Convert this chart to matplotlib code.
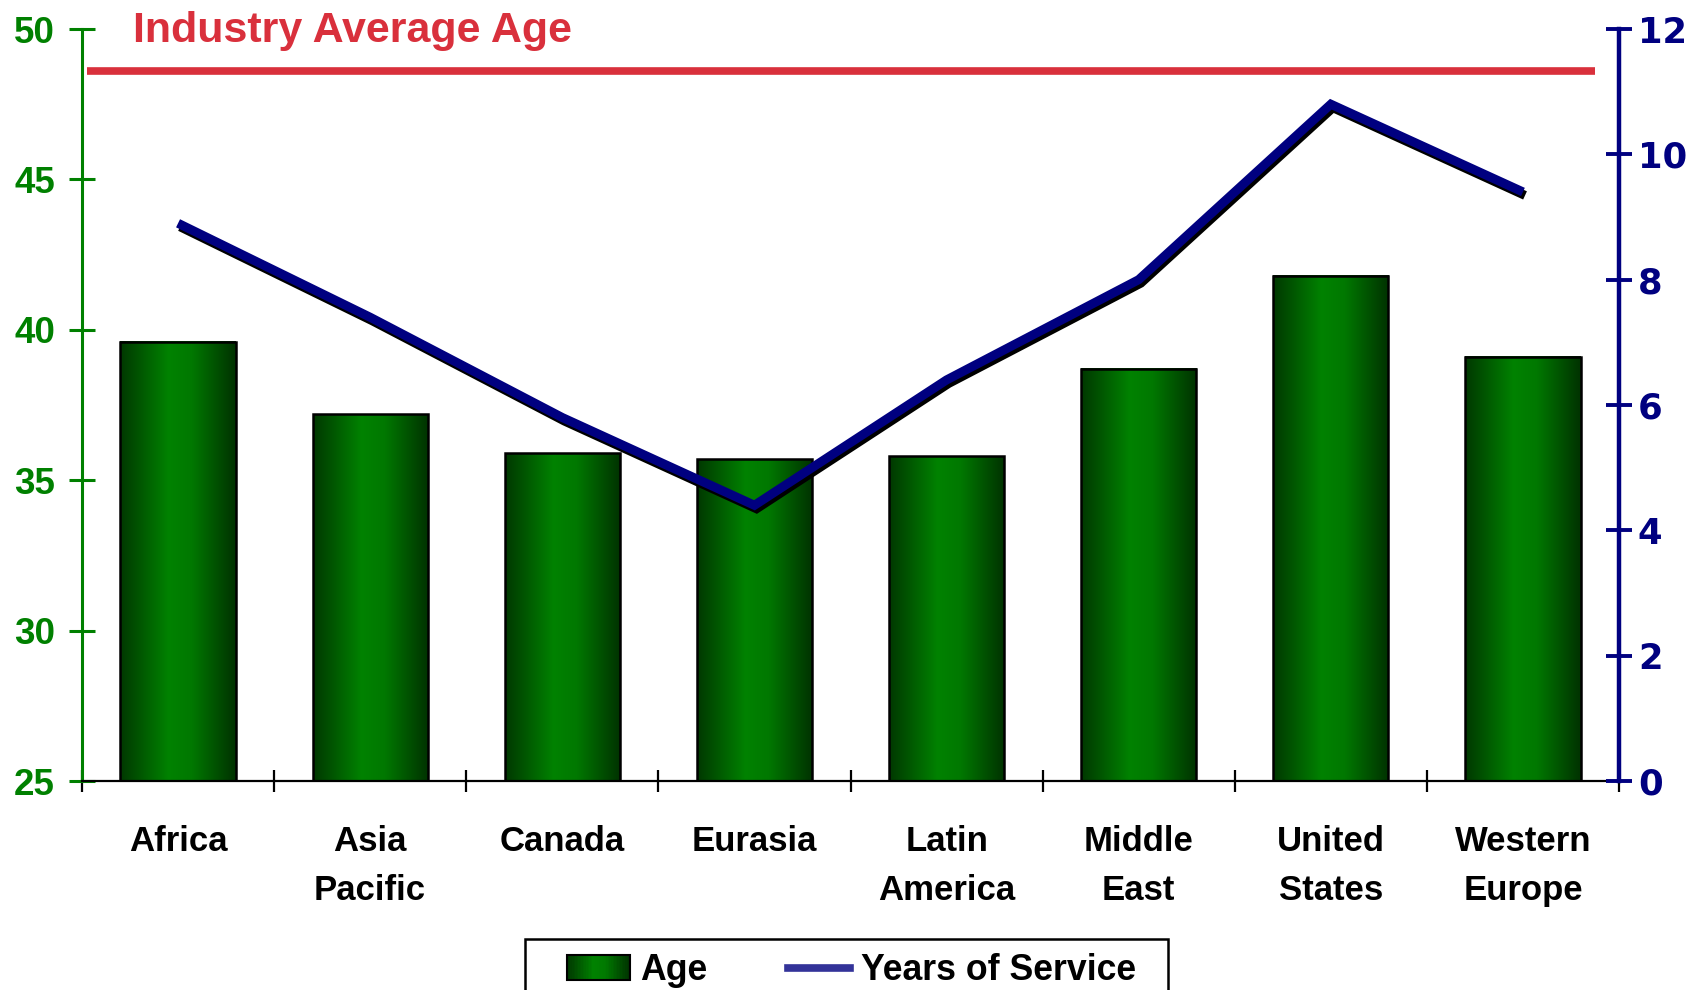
import numpy as np
import matplotlib
matplotlib.use("Agg")
import matplotlib.pyplot as plt
import matplotlib.patheffects as pe
from matplotlib.colors import LinearSegmentedColormap
from matplotlib.legend_handler import HandlerBase
from matplotlib.lines import Line2D
from matplotlib.patches import Rectangle

# Data
regions = ["Africa", "Asia\nPacific", "Canada", "Eurasia", "Latin\nAmerica",
           "Middle\nEast", "United\nStates", "Western\nEurope"]
age = [39.6, 37.2, 35.9, 35.7, 35.8, 38.7, 41.8, 39.1]
years_of_service = [8.9, 7.4, 5.8, 4.4, 6.4, 8.0, 10.8, 9.4]
industry_average_age = 48.6

age_ticks = [25, 30, 35, 40, 45, 50]
service_ticks = [0, 2, 4, 6, 8, 10, 12]

# Colors
green = "#008000"
navy = "#000080"
red = "#d9303c"
bar_cmap = LinearSegmentedColormap.from_list(
    "bar", [(0, "#003800"), (0.42, "#008200"), (0.62, "#007800"), (1, "#003200")])


class GradientHandler(HandlerBase):
    # Legend patch drawn as thin strips so it shows the same gradient
    def create_artists(self, legend, orig_handle, xdescent, ydescent,
                       width, height, fontsize, trans):
        n = 40
        artists = []
        for i in range(n):
            c = bar_cmap((i + 0.5) / n)
            artists.append(Rectangle((-xdescent + i * width / n, -ydescent),
                                     width / n * 1.05, height, facecolor=c,
                                     edgecolor="none", transform=trans))
        artists.append(Rectangle((-xdescent, -ydescent), width, height,
                                 facecolor="none", edgecolor="black", lw=1.5,
                                 transform=trans))
        return artists


plt.rcParams["font.family"] = ["Liberation Sans", "DejaVu Sans"]
plt.rcParams["font.weight"] = "bold"

fig, ax = plt.subplots(figsize=(17.01, 9.9), dpi=100)
fig.subplots_adjust(left=0.0482, right=0.9518, top=0.9707, bottom=0.2111)
ax2 = ax.twinx()

x = np.arange(len(regions))
ymin, ymax = age_ticks[0], age_ticks[-1]

# Bars with horizontal gradient
bars = ax.bar(x, np.array(age) - ymin, bottom=ymin, width=0.6,
              facecolor="none", edgecolor="black", linewidth=1.8, zorder=3)
grad = np.linspace(0, 1, 256).reshape(1, -1)
for rect in bars:
    x0, y0 = rect.get_x(), rect.get_y()
    ax.imshow(grad, cmap=bar_cmap, aspect="auto", zorder=2,
              extent=(x0, x0 + rect.get_width(), y0, y0 + rect.get_height()))

# Industry average line
ax.axhline(industry_average_age, xmin=0.003, xmax=0.9845, color=red,
           linewidth=5.5, solid_capstyle="butt", zorder=4)
fig.text(133 / 1701, 1 - 42 / 990, "Industry Average Age", color=red,
         fontsize=31, fontweight="bold", ha="left", va="baseline")

# Years of service line with drop shadow
ax2.plot(x, years_of_service, color=navy, linewidth=6.5,
         solid_capstyle="butt", solid_joinstyle="miter",
         path_effects=[pe.SimpleLineShadow(offset=(1.5, -2.5), shadow_color="black", alpha=1),
                       pe.Normal()])

# Axes limits
ax.set_xlim(-0.5, len(regions) - 0.5)
ax.set_ylim(ymin, ymax)
ax2.set_ylim(service_ticks[0], service_ticks[-1])

# Left axis
ax.set_yticks(age_ticks)
ax.tick_params(axis="y", direction="inout", length=19, width=2.2, color=green,
               labelcolor=green, labelsize=26.5, pad=10)
ax.spines["left"].set_color(green)
ax.spines["left"].set_linewidth(2.2)
ax.spines["top"].set_visible(False)
ax.spines["right"].set_visible(False)
ax.spines["bottom"].set_linewidth(1.6)

# Bottom axis: boundary ticks, labels in the middle
ax.set_xticks(np.arange(len(regions) + 1) - 0.5)
ax.set_xticklabels([])
ax.tick_params(axis="x", which="major", direction="inout", length=16,
               width=1.6, color="black")
ax.set_xticks(x, minor=True)
ax.set_xticklabels(regions, minor=True, fontsize=25, linespacing=1.58)
ax.tick_params(axis="x", which="minor", length=0, pad=32)

# Right axis
ax2.set_yticks(service_ticks)
ax2.tick_params(axis="y", direction="inout", length=19, width=2.8, color=navy,
                labelcolor=navy, labelsize=25.5, pad=4)
for lab in ax2.get_yticklabels():
    lab.set_fontfamily("DejaVu Sans")
ax2.spines["right"].set_color(navy)
ax2.spines["right"].set_linewidth(3.2)
for side in ("top", "left", "bottom"):
    ax2.spines[side].set_visible(False)

# Legend (frame drawn separately, it runs off the bottom edge)
handles = [Rectangle((0, 0), 1, 1), Line2D([], [], color="#333399", linewidth=5.5)]
leg = fig.legend(handles, ["Age", "Years of Service"], ncol=2,
                 loc="upper left", bbox_to_anchor=(553 / 1701, 1 - 939 / 990),
                 bbox_transform=fig.transFigure, fontsize=25.7, frameon=False,
                 borderaxespad=0, handlelength=1.75, handletextpad=0.3,
                 columnspacing=2.25, borderpad=0.4,
                 handler_map={Rectangle: GradientHandler()})
fig.add_artist(Rectangle((525 / 1701, -0.05), (1168 - 525) / 1701, 0.05 + 1 - 939 / 990,
                         transform=fig.transFigure, facecolor="none",
                         edgecolor="black", linewidth=1.8))

fig.savefig("out.png", dpi=100)
